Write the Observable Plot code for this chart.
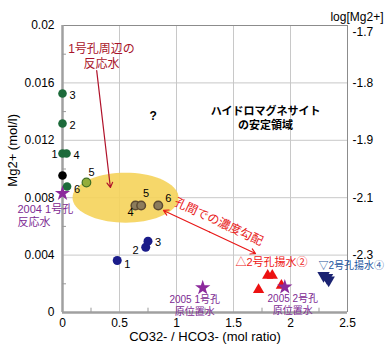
<!DOCTYPE html>
<html><head><meta charset="utf-8">
<script src="https://cdn.jsdelivr.net/npm/d3@7"></script>
<script src="https://cdn.jsdelivr.net/npm/@observablehq/plot@0.6"></script>
<style>body{margin:0;background:#fff}</style>
</head><body><div id="chart"></div>
<script>
// ---- data ----
const greenX = [0, 0, 0, 0.035, 0.04];
const greenY = [0.01526, 0.01317, 0.01108, 0.01108, 0.00878];
const greenLabel = ["3", "2", "1", "4", "6"];
const blackX = [0];
const blackY = [0.00955];
const lightGreenX = [0.21];
const lightGreenY = [0.00906];
const lightGreenLabel = ["5"];
const brownX = [0.64, 0.69, 0.84];
const brownY = [0.00746, 0.00746, 0.00746];
const brownLabel = ["4", "5", "6"];
const navyX = [0.48, 0.73, 0.75];
const navyY = [0.00362, 0.00455, 0.00497];
const navyLabel = ["1", "2", "3"];
const redTriX = [1.80, 1.84, 1.72, 1.92];
const redTriY = [0.00258, 0.00258, 0.00158, 0.00188];
const blueTriX = [2.29, 2.32, 2.335];
const blueTriY = [0.00258, 0.00244, 0.00226];
const starX = [0, 1.23, 1.95];
const starY = [0.0083, 0.00172, 0.00177];
const starLabel = ["2004 1号孔\n反応水", "2005 1号孔\n原位置水", "2005 2号孔\n原位置水"];
const xTicks = [0, 0.5, 1, 1.5, 2, 2.5];
const yTicks = [0, 0.004, 0.008, 0.012, 0.016, 0.02];
const rightTicks = [0.02, 0.016, 0.012, 0.008, 0.004];
const rightTickLabels = ["-1.7", "-1.8", "-1.9", "-2.1", "-2.3"];
const xMinor = [0.25, 0.75, 1.25, 1.75, 2.25];
const yMinor = [0.002, 0.006, 0.01, 0.014, 0.018];
const ellipseCenter = [0.553, 0.0080];
const ellipseRadius = [0.465, 0.00174];

const zip = (xs, ys, ls) => xs.map((x, i) => ({x, y: ys[i], label: ls ? ls[i] : ""}));
const green = zip(greenX, greenY, greenLabel);
const black = zip(blackX, blackY);
const lightGreen = zip(lightGreenX, lightGreenY, lightGreenLabel);
const brown = zip(brownX, brownY, brownLabel);
const navy = zip(navyX, navyY, navyLabel);
const redTri = zip(redTriX, redTriY);
const blueTri = zip(blueTriX, blueTriY);
const stars = zip(starX, starY, starLabel);
const ellipse = d3.range(73).map(i => {
  const t = i / 72 * 2 * Math.PI;
  return {x: ellipseCenter[0] + ellipseRadius[0] * Math.cos(t), y: ellipseCenter[1] + ellipseRadius[1] * Math.sin(t)};
});
const rightFmt = d => rightTickLabels[rightTicks.indexOf(d)];

const CJK = "'Liberation Sans', 'Noto Sans CJK JP', sans-serif";
const purple = "#7d2a93";
const lab = (data, labels, dx, dy, anchor = "start") =>
  Plot.text(data.filter(d => labels.includes(d.label)), {x: "x", y: "y", text: "label", dx, dy, textAnchor: anchor, fontSize: 11});

const chart = Plot.plot({
  width: 390, height: 350,
  marginLeft: 62, marginRight: 43, marginTop: 25, marginBottom: 38,
  x: {domain: [0, 2.5]},
  y: {domain: [0, 0.02]},
  style: {fontFamily: CJK, fontSize: "12px", background: "#fff", color: "#000"},
  marks: [
    Plot.gridX([0.5, 1, 1.5, 2], {stroke: "#c8c8c8", strokeOpacity: 1}),
    Plot.gridY([0.004, 0.008, 0.012, 0.016], {stroke: "#c8c8c8", strokeOpacity: 1}),
    Plot.line(ellipse, {x: "x", y: "y", fill: "#f5d35a", fillOpacity: 0.9, stroke: "none", curve: "linear-closed"}),
    Plot.ruleY([0.02], {stroke: "#8c8c8c"}),
    Plot.ruleX([2.5], {stroke: "#8c8c8c"}),
    Plot.ruleX([0], {stroke: "#a0a0a0", strokeWidth: 2.5}),
    Plot.ruleY([0], {stroke: "#a0a0a0", strokeWidth: 2.5}),
    Plot.ruleX(xMinor, {y1: 0, y2: 0.0003, stroke: "#999"}),
    Plot.ruleY(yMinor, {x1: 0, x2: 0.035, stroke: "#999"}),
    Plot.axisX({ticks: xTicks, tickSize: 0, tickPadding: 6, tickFormat: d => String(d), label: null, fontSize: 12}),
    Plot.axisY({anchor: "left", ticks: yTicks, tickSize: 0, tickPadding: 8, tickFormat: d => String(d), label: null, fontSize: 12}),
    Plot.axisY({anchor: "right", ticks: rightTicks.slice(1), tickSize: 0, tickPadding: 5, tickFormat: rightFmt, label: null, fontSize: 12}),
    Plot.axisY({anchor: "right", ticks: rightTicks.slice(0, 1), tickSize: 0, tickPadding: 5, dy: 7, tickFormat: rightFmt, label: null, fontSize: 12}),
    // axis titles
    Plot.text(["CO32- / HCO3- (mol ratio)"], {frameAnchor: "bottom", dy: 28, text: d => d, fontSize: 13}),
    Plot.text(["Mg2+ (mol/l)"], {x: 0, y: 0.0113, dx: -50, rotate: -90, text: d => d, fontSize: 13}),
    Plot.text(["log[Mg2+]"], {frameAnchor: "top-right", dx: 36, dy: -13, textAnchor: "end", text: d => d, fontSize: 12}),
    // arrows
    Plot.arrow([{x1: 0.30, y1: 0.01686, x2: 0.42, y2: 0.00871}], {x1: "x1", y1: "y1", x2: "x2", y2: "y2", stroke: "#b0122a", strokeWidth: 1.2, headLength: 7}),
    Plot.arrow([{x1: 1.29, y1: 0.00561, x2: 0.886, y2: 0.00711}, {x1: 1.29, y1: 0.00561, x2: 1.693, y2: 0.00411}], {x1: "x1", y1: "y1", x2: "x2", y2: "y2", stroke: "#e81818", strokeWidth: 1.2, headLength: 7}),
    // points
    Plot.dot(green, {x: "x", y: "y", r: 4.3, fill: "#1c6a3a"}),
    Plot.dot(black, {x: "x", y: "y", r: 4.3, fill: "#000"}),
    Plot.dot(lightGreen, {x: "x", y: "y", r: 4.3, fill: "#93ad3a", stroke: "#3f6e22", strokeWidth: 1.2}),
    Plot.dot(brown, {x: "x", y: "y", r: 4.3, fill: "#8c7c5c", stroke: "#5c4a32"}),
    Plot.dot(navy, {x: "x", y: "y", r: 4.5, fill: "#1a1c8a"}),
    Plot.dot(redTri, {x: "x", y: "y", r: 4.2, symbol: "triangle", fill: "#ec1111"}),
    Plot.dot(blueTri, {x: "x", y: "y", r: 4.6, symbol: "triangle", rotate: 180, fill: "#1b2372"}),
    Plot.dot(stars, {x: "x", y: "y", r: 4.8, symbol: "star", fill: "#8c2a9c"}),
    // point labels
    lab(green, ["3", "2", "4"], 7, 2),
    lab(green, ["6"], 7, 3),
    lab(green, ["1"], -5, 1, "end"),
    lab(lightGreen, ["5"], 5, -10, "middle"),
    lab(brown, ["4"], -5, 7, "middle"),
    lab(brown, ["5"], 5, -12, "middle"),
    lab(brown, ["6"], 10, -7, "middle"),
    lab(navy, ["1"], 7, 4),
    lab(navy, ["2"], -7, 3, "end"),
    lab(navy, ["3"], 7, 1),
    // star labels
    Plot.text(stars.slice(0, 1), {x: "x", y: "y", text: "label", dx: -45, dy: 22, textAnchor: "start", fill: purple, fontSize: 11, lineHeight: 1.15}),
    Plot.text(stars.slice(1, 2), {x: "x", y: "y", text: "label", dx: -8, dy: 17, textAnchor: "middle", fill: purple, fontSize: 10, lineHeight: 1.2}),
    Plot.text(stars.slice(2, 3), {x: "x", y: "y", text: "label", dx: 8, dy: 17, textAnchor: "middle", fill: purple, fontSize: 10, lineHeight: 1.2}),
    // annotations
    Plot.text([{x: 0.342, y: 0.01787, t: "1号孔周辺の\n反応水"}], {x: "x", y: "y", text: "t", fill: "#a8132a", fontSize: 12, lineHeight: 1.25}),
    Plot.text([{x: 0.796, y: 0.01366, t: "?"}], {x: "x", y: "y", text: "t", fontSize: 12, fontWeight: "bold"}),
    Plot.text([{x: 1.781, y: 0.01359, t: "ハイドロマグネサイト\nの安定領域"}], {x: "x", y: "y", text: "t", fontSize: 11, fontWeight: "bold", lineHeight: 1.3}),
    Plot.text([{x: 1.37, y: 0.00632, t: "孔間での濃度勾配"}], {x: "x", y: "y", text: "t", fill: "#e81818", fontSize: 12, rotate: 25}),
    Plot.text([{x: 1.833, y: 0.00348, t: "△2号孔揚水②"}], {x: "x", y: "y", text: "t", fill: "#ee1515", fontSize: 11}),
    Plot.text([{x: 2.245, y: 0.00322, t: "▽2号孔揚水④"}], {x: "x", y: "y", text: "t", fill: "#1c55a0", fontSize: 10, textAnchor: "start"})
  ]
});
document.getElementById("chart").appendChild(chart);
</script>
</body></html>
